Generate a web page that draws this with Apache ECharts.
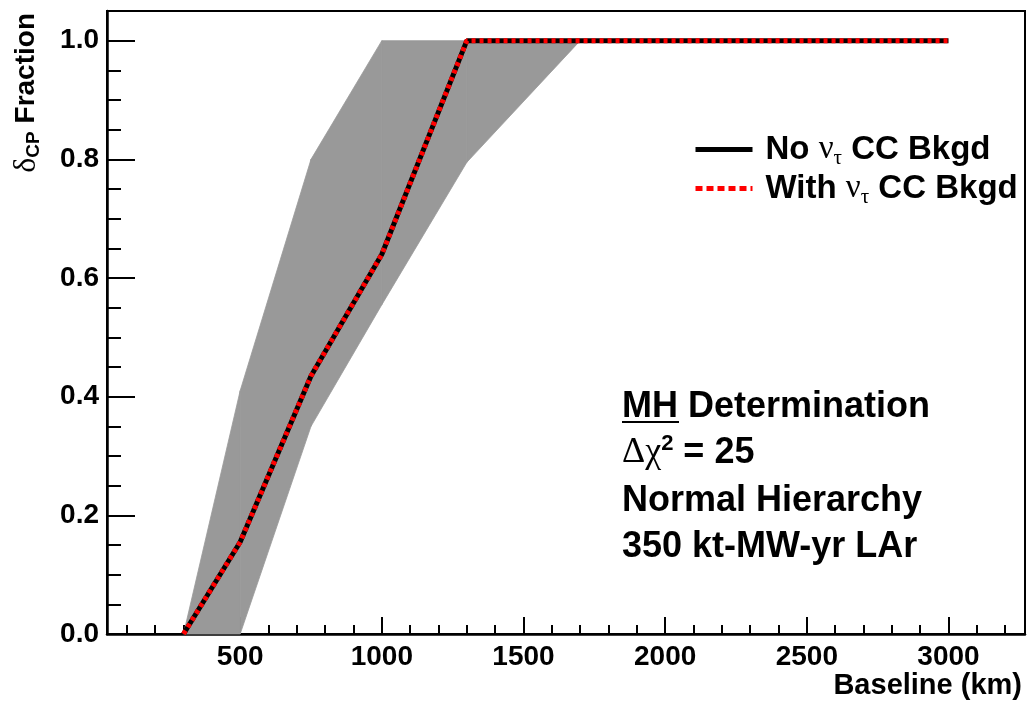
<!DOCTYPE html>
<html>
<head>
<meta charset="utf-8">
<script src="https://cdn.jsdelivr.net/npm/echarts@6/dist/echarts.min.js"></script>
<style>
  html, body { margin: 0; padding: 0; background: #ffffff; }
  #chart { width: 1029px; height: 702px; }
</style>
</head>
<body>
<div id="chart"></div>
<script>
// Central curves: fraction of delta_CP values vs. baseline (km)
const baselines = [300, 500, 750, 1000, 1300, 3000];
const fracNoTau = [0, 0.155, 0.435, 0.64, 1.0, 1.0];
const fracWithTau = [0, 0.155, 0.435, 0.64, 1.0, 1.0];

// Grey spread band around the central curves
const bandBaselines = [300, 500, 750, 1000, 1300, 1700];
const bandLow = [0, 0, 0.35, 0.555, 0.795, 1.0];
const bandHigh = [0, 0.41, 0.80, 1.0, 1.0, 1.0];

// Axis ticks
const xMajorTicks = [500, 1000, 1500, 2000, 2500, 3000];
const xMinorTicks = [100, 200, 300, 400, 600, 700, 800, 900, 1100, 1200, 1300, 1400,
  1600, 1700, 1800, 1900, 2100, 2200, 2300, 2400, 2600, 2700, 2800, 2900, 3100, 3200];
const yMajorTicks = [0, 0.2, 0.4, 0.6, 0.8, 1.0];
const yMinorTicks = [0.05, 0.1, 0.15, 0.25, 0.3, 0.35, 0.45, 0.5, 0.55, 0.65, 0.7, 0.75,
  0.85, 0.9, 0.95];

const seriesNames = ['No \u03bd\u03c4 CC Bkgd', 'With \u03bd\u03c4 CC Bkgd'];

const SANS = '"Liberation Sans", Arial, Helvetica, sans-serif';
const GREEK = '"Liberation Serif", "DejaVu Serif", serif';

const pairs = (xs, ys) => xs.map((x, i) => [x, ys[i]]);
const bandData = bandBaselines.map((x, i) => [x, bandLow[i], bandHigh[i]]);

const chart = echarts.init(document.getElementById('chart'), null, { renderer: 'canvas' });

// Each band segment is a quadrilateral between consecutive baselines
function renderBandSegment(params, api) {
  const i = params.dataIndex;
  if (i === 0) return null;
  const x0 = bandData[i - 1][0], x1 = bandData[i][0];
  const pts = [
    api.coord([x0, bandData[i - 1][1]]),
    api.coord([x1, bandData[i][1]]),
    api.coord([x1, bandData[i][2]]),
    api.coord([x0, bandData[i - 1][2]])
  ];
  return {
    type: 'polygon',
    shape: { points: pts },
    style: { fill: '#999999', stroke: '#999999', lineWidth: 0.8 }
  };
}

const legendRich = {
  t: { fontFamily: SANS, fontWeight: 'bold', fontSize: 33, color: '#000' },
  g: { fontFamily: GREEK, fontWeight: 'normal', fontSize: 33, color: '#000' },
  s: { fontFamily: GREEK, fontWeight: 'normal', fontSize: 21, color: '#000', padding: [18, 0, 0, 0] }
};

const ANNOT_FONT = 'bold 36px ' + SANS;

const option = {
  backgroundColor: '#ffffff',
  animation: false,
  grid: {
    left: 107, right: 4, top: 11, bottom: 68,
    show: true, borderColor: '#000', borderWidth: 2,
    outerBoundsMode: 'none', containLabel: false
  },
  legend: {
    data: [
      { name: seriesNames[0] },
      { name: seriesNames[1], lineStyle: { type: [7, 4], width: 5, cap: 'butt' } }
    ],
    orient: 'vertical',
    left: 688, top: 128,
    itemWidth: 57, itemHeight: 14, itemGap: 3,
    selectedMode: false,
    itemStyle: { opacity: 0 },
    lineStyle: { width: 5, cap: 'butt' },
    formatter: function (name) {
      const head = name.startsWith('No') ? 'No ' : 'With ';
      return '{t|' + head + '}{g|\u03bd}{s|\u03c4}{t| CC Bkgd}';
    },
    textStyle: { padding: [0, 0, 0, 8], rich: legendRich }
  },
  xAxis: [
    {
      type: 'value', min: 30, max: 3270, position: 'bottom',
      axisLine: { show: true, onZero: false, lineStyle: { color: '#000', width: 2.5 } },
      axisTick: { show: true, inside: true, length: 17, customValues: xMajorTicks,
        lineStyle: { color: '#000', width: 2 } },
      axisLabel: { show: true, customValues: xMajorTicks, margin: 9, color: '#000',
        fontFamily: SANS, fontWeight: 'bold', fontSize: 28,
        formatter: v => String(v) },
      splitLine: { show: false },
      name: 'Baseline (km)', nameLocation: 'end', nameGap: -3,
      nameTextStyle: { align: 'right', verticalAlign: 'top', padding: [37, 0, 0, 0],
        fontFamily: SANS, fontWeight: 'bold', fontSize: 29, color: '#000' }
    },
    {
      type: 'value', min: 30, max: 3270, position: 'bottom',
      axisLine: { show: false },
      axisTick: { show: true, inside: true, length: 9, customValues: xMinorTicks,
        lineStyle: { color: '#000', width: 2 } },
      axisLabel: { show: false },
      splitLine: { show: false }
    }
  ],
  yAxis: [
    {
      type: 'value', min: 0, max: 1.05, position: 'left',
      axisLine: { show: true, onZero: false, lineStyle: { color: '#000', width: 2.5 } },
      axisTick: { show: true, inside: true, length: 28, customValues: yMajorTicks,
        lineStyle: { color: '#000', width: 2 } },
      axisLabel: { show: true, customValues: yMajorTicks, margin: 8, color: '#000',
        fontFamily: SANS, fontWeight: 'bold', fontSize: 28,
        formatter: v => v.toFixed(1) },
      splitLine: { show: false },
      name: '{g|\u03b4}{s|CP}{t| Fraction}', nameLocation: 'end', nameRotate: 90, nameGap: -2,
      nameTextStyle: {
        align: 'right', verticalAlign: 'bottom', padding: [0, 0, 64, 0],
        rich: {
          t: { fontFamily: SANS, fontWeight: 'bold', fontSize: 28, color: '#000' },
          g: { fontFamily: GREEK, fontWeight: 'normal', fontSize: 32, color: '#000' },
          s: { fontFamily: SANS, fontWeight: 'bold', fontSize: 19, color: '#000', padding: [14, 0, 0, 0] }
        }
      }
    },
    {
      type: 'value', min: 0, max: 1.05, position: 'left',
      axisLine: { show: false },
      axisTick: { show: true, inside: true, length: 14, customValues: yMinorTicks,
        lineStyle: { color: '#000', width: 2 } },
      axisLabel: { show: false },
      splitLine: { show: false }
    }
  ],
  graphic: [
    { type: 'text', left: 622, top: 389, silent: true,
      style: { text: 'MH Determination', font: ANNOT_FONT, fill: '#000' } },
    { type: 'text', left: 622, top: 433, silent: true,
      style: {
        text: '{g|\u0394\u03c7}{p|2}{t| = 25}',
        rich: {
          g: { fontFamily: GREEK, fontWeight: 'normal', fontSize: 36, color: '#000' },
          p: { fontFamily: SANS, fontWeight: 'bold', fontSize: 22, color: '#000', padding: [0, 0, 18, 0] },
          t: { fontFamily: SANS, fontWeight: 'bold', fontSize: 36, color: '#000' }
        }
      } },
    { type: 'line', silent: true,
      shape: { x1: 622, y1: 422, x2: 679, y2: 422 },
      style: { stroke: '#000', lineWidth: 2 } },
    { type: 'text', left: 622, top: 483, silent: true,
      style: { text: 'Normal Hierarchy', font: ANNOT_FONT, fill: '#000' } },
    { type: 'text', left: 622, top: 529, silent: true,
      style: { text: '350 kt-MW-yr LAr', font: ANNOT_FONT, fill: '#000' } }
  ],
  series: [
    {
      name: 'band', type: 'custom', xAxisIndex: 0, yAxisIndex: 0,
      data: bandData, encode: { x: 0, y: [1, 2] },
      renderItem: renderBandSegment, silent: true, z: 1
    },
    {
      name: seriesNames[0], type: 'line', xAxisIndex: 0, yAxisIndex: 0,
      data: pairs(baselines, fracNoTau), z: 2,
      symbol: 'none', lineStyle: { color: '#000000', width: 5 }, itemStyle: { color: '#000000' }
    },
    {
      name: seriesNames[1], type: 'line', xAxisIndex: 0, yAxisIndex: 0,
      data: pairs(baselines, fracWithTau), z: 3,
      symbol: 'none',
      lineStyle: { color: '#ff0000', width: 5, type: [4, 4], cap: 'butt' },
      itemStyle: { color: '#ff0000' }
    }
  ]
};

chart.setOption(option);
</script>
</body>
</html>
